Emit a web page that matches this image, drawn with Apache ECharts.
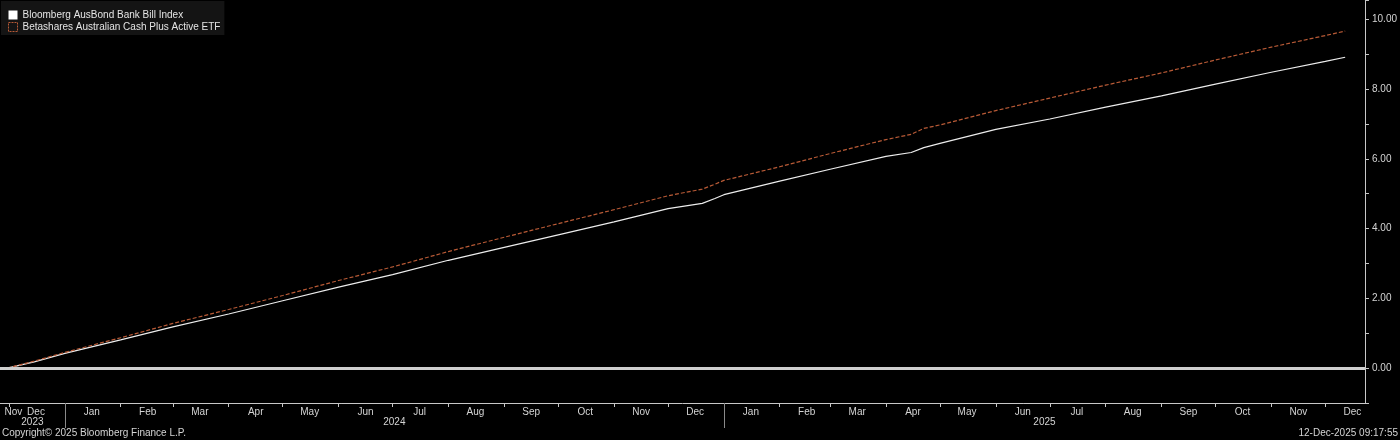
<!DOCTYPE html>
<html><head><meta charset="utf-8">
<script src="https://cdn.jsdelivr.net/npm/echarts@6/dist/echarts.min.js"></script>
<style>html,body{margin:0;padding:0;background:#000;}#c{width:1400px;height:440px;}</style>
</head><body><div id="c"></div>
<script>
const seriesNames = ['Bloomberg AusBond Bank Bill Index', 'Betashares Australian Cash Plus Active ETF'];
const dates = ['2023-11-30','2023-12-15','2024-01-01','2024-02-01','2024-03-01','2024-04-01','2024-05-01','2024-06-01','2024-07-01','2024-08-01','2024-09-01','2024-10-01','2024-11-01','2024-12-01','2024-12-20','2024-12-27','2025-01-01','2025-02-01','2025-03-01','2025-04-01','2025-04-15','2025-04-22','2025-05-01','2025-06-01','2025-07-01','2025-08-01','2025-09-01','2025-10-01','2025-11-01','2025-12-01','2025-12-12'];
const bankBill = [0,0.18,0.42,0.81,1.18,1.55,1.93,2.32,2.68,3.09,3.46,3.82,4.19,4.57,4.72,4.86,4.97,5.36,5.70,6.07,6.18,6.32,6.44,6.84,7.14,7.48,7.80,8.14,8.48,8.79,8.91];
const cashPlus = [0,0.20,0.45,0.87,1.28,1.68,2.08,2.51,2.90,3.34,3.75,4.14,4.54,4.94,5.13,5.27,5.38,5.77,6.15,6.55,6.70,6.87,6.97,7.38,7.74,8.11,8.46,8.83,9.20,9.53,9.66];
const yTickLabels = [0,2,4,6,8,10];
const monthNames = ['Jan','Feb','Mar','Apr','May','Jun','Jul','Aug','Sep','Oct','Nov','Dec'];
const xMinDate = '2023-11-26';
const xMaxDate = '2025-12-23';
const copyrightText = 'Copyright\u00a9 2025 Bloomberg Finance L.P.';
const stampText = '12-Dec-2025 09:17:55';

const P = s => echarts.number.parseDate(s).getTime();
const xMin = P(xMinDate), xMax = P(xMaxDate);
const dMin = new Date(xMin), dMax = new Date(xMax);

const monthStarts = [], monthLabelAt = [];
for (let y = dMin.getFullYear(), m = dMin.getMonth(); y < dMax.getFullYear() || (y === dMax.getFullYear() && m <= dMax.getMonth()); ) {
  const start = new Date(y, m, 1).getTime();
  const next = new Date(y, m + 1, 1).getTime();
  const mid = new Date(y, m, 16).getTime();
  if (start >= xMin) monthStarts.push(start);
  if (mid >= xMin) monthLabelAt.push(mid);
  else monthLabelAt.push((xMin + next) / 2);
  m++; if (m > 11) { m = 0; y++; }
}
const yearStarts = [], yearLabelAt = [];
for (let y = dMin.getFullYear(); y <= dMax.getFullYear(); y++) {
  const s = new Date(y, 0, 1).getTime(), e = new Date(y + 1, 0, 1).getTime();
  if (s > xMin) yearStarts.push(s);
  yearLabelAt.push((Math.max(s, xMin) + Math.min(e, xMax)) / 2);
}

const font = 'Liberation Sans, Arial, sans-serif';
const txt = '#d4d4d4';
const axisCol = '#c8c8c8';

const chart = echarts.init(document.getElementById('c'), null, {renderer: 'canvas'});
chart.setOption({
  backgroundColor: '#000',
  animation: false,
  textStyle: {fontFamily: font},
  grid: {left: 0, right: 33, top: 0, bottom: 37, containLabel: false},
  legend: {
    left: 1, top: 1, orient: 'vertical',
    backgroundColor: '#141414',
    padding: [9, 4, 3, 7],
    itemGap: 2, itemWidth: 9, itemHeight: 9,
    textStyle: {color: '#e4e4e4', fontSize: 10, fontFamily: font},
    data: [
      {name: seriesNames[0], icon: 'rect', itemStyle: {color: '#ffffff', borderWidth: 0}},
      {name: seriesNames[1], icon: 'rect', itemStyle: {color: 'transparent', borderColor: '#b85a36', borderWidth: 1, borderType: [2, 1]}}
    ]
  },
  xAxis: [
    {
      type: 'value', min: xMin, max: xMax, position: 'bottom',
      axisLine: {show: true, onZero: false, lineStyle: {color: axisCol, width: 1}},
      axisTick: {show: true, length: 4, lineStyle: {color: axisCol}, customValues: monthStarts},
      axisLabel: {
        show: true, customValues: monthLabelAt, margin: 4, color: txt, fontSize: 10, fontFamily: font,
        alignMinLabel: 'left', hideOverlap: false, showMinLabel: true, showMaxLabel: true,
        formatter: v => monthNames[new Date(v).getMonth()]
      },
      splitLine: {show: false}
    },
    {
      type: 'value', min: xMin, max: xMax, position: 'bottom',
      axisLine: {show: false, onZero: false},
      axisTick: {show: true, length: 25, lineStyle: {color: '#8a8a8a'}, customValues: yearStarts},
      axisLabel: {
        show: true, customValues: yearLabelAt, margin: 14, color: txt, fontSize: 10, fontFamily: font,
        hideOverlap: false, showMinLabel: true, showMaxLabel: true,
        formatter: v => String(new Date(v).getFullYear())
      },
      splitLine: {show: false}
    }
  ],
  yAxis: {
    type: 'value', position: 'right', min: -1, max: 10.55, interval: 1,
    axisLine: {show: true, lineStyle: {color: axisCol, width: 1}},
    axisTick: {show: true, length: 4, lineStyle: {color: axisCol}},
    axisLabel: {
      margin: 7, color: txt, fontSize: 10, fontFamily: font,
      formatter: v => yTickLabels.indexOf(v) >= 0 ? v.toFixed(2) : ''
    },
    splitLine: {show: false}
  },
  series: [
    {
      name: seriesNames[0], type: 'line', xAxisIndex: 0, showSymbol: false, symbol: 'none',
      data: dates.map((d, i) => [P(d), bankBill[i]]),
      lineStyle: {color: '#ececec', width: 1.2},
      itemStyle: {color: '#ffffff'},
      markLine: {
        silent: true, symbol: ['none', 'none'], label: {show: false},
        lineStyle: {color: '#cfcfcf', width: 3, type: 'solid'},
        data: [{yAxis: 0}]
      },
      z: 3
    },
    {
      name: seriesNames[1], type: 'line', xAxisIndex: 0, showSymbol: false, symbol: 'none',
      data: dates.map((d, i) => [P(d), cashPlus[i]]),
      lineStyle: {color: '#b85a36', width: 1.2, type: [4, 2]},
      itemStyle: {color: '#b85a36'},
      z: 4
    }
  ],
  graphic: [
    {type: 'text', left: 2, top: 428, style: {text: copyrightText, fill: txt, fontSize: 10, fontFamily: font}},
    {type: 'text', right: 2, top: 428, style: {text: stampText, fill: txt, fontSize: 10, fontFamily: font}}
  ]
});
</script>
</body></html>
